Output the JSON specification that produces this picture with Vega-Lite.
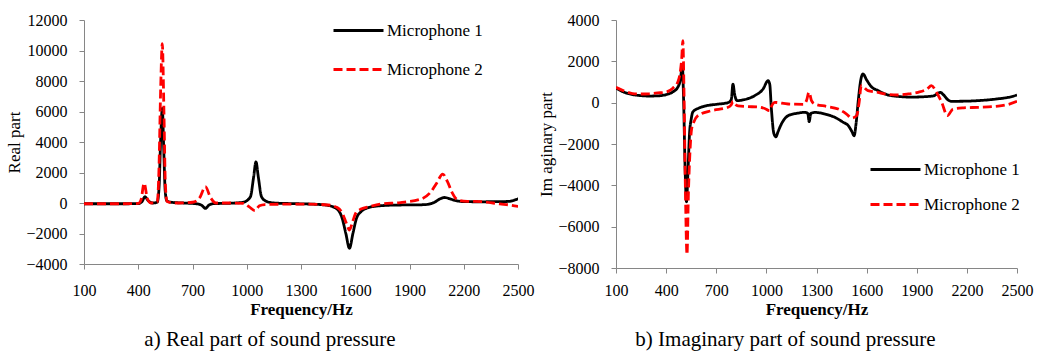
{
  "$schema": "https://vega.github.io/schema/vega-lite/v6.json",
  "padding": {"left": 5, "top": 4, "right": 5, "bottom": 3},
  "background": "white",
  "spacing": 3,
  "datasets": {
    "real": [
      {"f":100,"mic":"Microphone 1","v":-50},{"f":300,"mic":"Microphone 1","v":-50},{"f":400,"mic":"Microphone 1","v":-40},{"f":420,"mic":"Microphone 1","v":80},{"f":437,"mic":"Microphone 1","v":410},{"f":455,"mic":"Microphone 1","v":150},{"f":480,"mic":"Microphone 1","v":0},{"f":505,"mic":"Microphone 1","v":60},{"f":515,"mic":"Microphone 1","v":1000},{"f":524,"mic":"Microphone 1","v":4200},{"f":533,"mic":"Microphone 1","v":6200},{"f":541,"mic":"Microphone 1","v":3500},{"f":549,"mic":"Microphone 1","v":800},{"f":558,"mic":"Microphone 1","v":150},{"f":580,"mic":"Microphone 1","v":50},{"f":650,"mic":"Microphone 1","v":0},{"f":720,"mic":"Microphone 1","v":-50},{"f":750,"mic":"Microphone 1","v":-140},{"f":771,"mic":"Microphone 1","v":-350},{"f":792,"mic":"Microphone 1","v":-130},{"f":820,"mic":"Microphone 1","v":-40},{"f":900,"mic":"Microphone 1","v":-20},{"f":980,"mic":"Microphone 1","v":50},{"f":1020,"mic":"Microphone 1","v":400},{"f":1038,"mic":"Microphone 1","v":1700},{"f":1051,"mic":"Microphone 1","v":2700},{"f":1064,"mic":"Microphone 1","v":1700},{"f":1082,"mic":"Microphone 1","v":400},{"f":1110,"mic":"Microphone 1","v":100},{"f":1150,"mic":"Microphone 1","v":0},{"f":1250,"mic":"Microphone 1","v":-40},{"f":1350,"mic":"Microphone 1","v":-70},{"f":1433,"mic":"Microphone 1","v":-130},{"f":1490,"mic":"Microphone 1","v":-320},{"f":1525,"mic":"Microphone 1","v":-900},{"f":1548,"mic":"Microphone 1","v":-2000},{"f":1568,"mic":"Microphone 1","v":-2970},{"f":1587,"mic":"Microphone 1","v":-2000},{"f":1607,"mic":"Microphone 1","v":-1000},{"f":1632,"mic":"Microphone 1","v":-570},{"f":1680,"mic":"Microphone 1","v":-280},{"f":1750,"mic":"Microphone 1","v":-170},{"f":1850,"mic":"Microphone 1","v":-130},{"f":1950,"mic":"Microphone 1","v":-120},{"f":2000,"mic":"Microphone 1","v":-90},{"f":2040,"mic":"Microphone 1","v":60},{"f":2070,"mic":"Microphone 1","v":280},{"f":2093,"mic":"Microphone 1","v":360},{"f":2120,"mic":"Microphone 1","v":290},{"f":2150,"mic":"Microphone 1","v":170},{"f":2204,"mic":"Microphone 1","v":90},{"f":2300,"mic":"Microphone 1","v":80},{"f":2443,"mic":"Microphone 1","v":100},{"f":2480,"mic":"Microphone 1","v":190},{"f":2505,"mic":"Microphone 1","v":300},
      {"f":100,"mic":"Microphone 2","v":-50},{"f":300,"mic":"Microphone 2","v":-50},{"f":400,"mic":"Microphone 2","v":-30},{"f":415,"mic":"Microphone 2","v":200},{"f":433,"mic":"Microphone 2","v":1300},{"f":450,"mic":"Microphone 2","v":300},{"f":470,"mic":"Microphone 2","v":0},{"f":505,"mic":"Microphone 2","v":30},{"f":514,"mic":"Microphone 2","v":2000},{"f":524,"mic":"Microphone 2","v":7500},{"f":533,"mic":"Microphone 2","v":10450},{"f":542,"mic":"Microphone 2","v":6000},{"f":550,"mic":"Microphone 2","v":1200},{"f":559,"mic":"Microphone 2","v":100},{"f":600,"mic":"Microphone 2","v":0},{"f":700,"mic":"Microphone 2","v":50},{"f":740,"mic":"Microphone 2","v":350},{"f":771,"mic":"Microphone 2","v":1070},{"f":800,"mic":"Microphone 2","v":350},{"f":830,"mic":"Microphone 2","v":0},{"f":900,"mic":"Microphone 2","v":0},{"f":980,"mic":"Microphone 2","v":-20},{"f":1014,"mic":"Microphone 2","v":-250},{"f":1045,"mic":"Microphone 2","v":-500},{"f":1070,"mic":"Microphone 2","v":-180},{"f":1100,"mic":"Microphone 2","v":-100},{"f":1200,"mic":"Microphone 2","v":-80},{"f":1350,"mic":"Microphone 2","v":-80},{"f":1450,"mic":"Microphone 2","v":-130},{"f":1500,"mic":"Microphone 2","v":-300},{"f":1530,"mic":"Microphone 2","v":-700},{"f":1550,"mic":"Microphone 2","v":-1300},{"f":1568,"mic":"Microphone 2","v":-1770},{"f":1586,"mic":"Microphone 2","v":-1200},{"f":1605,"mic":"Microphone 2","v":-620},{"f":1632,"mic":"Microphone 2","v":-400},{"f":1680,"mic":"Microphone 2","v":-230},{"f":1743,"mic":"Microphone 2","v":-60},{"f":1850,"mic":"Microphone 2","v":30},{"f":1964,"mic":"Microphone 2","v":260},{"f":2019,"mic":"Microphone 2","v":740},{"f":2050,"mic":"Microphone 2","v":1300},{"f":2084,"mic":"Microphone 2","v":1900},{"f":2110,"mic":"Microphone 2","v":1400},{"f":2135,"mic":"Microphone 2","v":700},{"f":2167,"mic":"Microphone 2","v":200},{"f":2220,"mic":"Microphone 2","v":110},{"f":2296,"mic":"Microphone 2","v":90},{"f":2400,"mic":"Microphone 2","v":-60},{"f":2460,"mic":"Microphone 2","v":-140},{"f":2506,"mic":"Microphone 2","v":-240}
    ],
    "imag": [
      {"f":100,"mic":"Microphone 1","v":710},{"f":150,"mic":"Microphone 1","v":500},{"f":200,"mic":"Microphone 1","v":390},{"f":250,"mic":"Microphone 1","v":340},{"f":300,"mic":"Microphone 1","v":320},{"f":350,"mic":"Microphone 1","v":330},{"f":400,"mic":"Microphone 1","v":390},{"f":440,"mic":"Microphone 1","v":520},{"f":470,"mic":"Microphone 1","v":750},{"f":485,"mic":"Microphone 1","v":1100},{"f":497,"mic":"Microphone 1","v":1790},{"f":505,"mic":"Microphone 1","v":0},{"f":513,"mic":"Microphone 1","v":-3000},{"f":522,"mic":"Microphone 1","v":-4800},{"f":530,"mic":"Microphone 1","v":-3500},{"f":540,"mic":"Microphone 1","v":-1500},{"f":550,"mic":"Microphone 1","v":-800},{"f":560,"mic":"Microphone 1","v":-450},{"f":600,"mic":"Microphone 1","v":-250},{"f":640,"mic":"Microphone 1","v":-150},{"f":700,"mic":"Microphone 1","v":-80},{"f":770,"mic":"Microphone 1","v":0},{"f":790,"mic":"Microphone 1","v":150},{"f":800,"mic":"Microphone 1","v":900},{"f":810,"mic":"Microphone 1","v":400},{"f":825,"mic":"Microphone 1","v":100},{"f":870,"mic":"Microphone 1","v":150},{"f":930,"mic":"Microphone 1","v":340},{"f":980,"mic":"Microphone 1","v":660},{"f":1010,"mic":"Microphone 1","v":1060},{"f":1020,"mic":"Microphone 1","v":900},{"f":1030,"mic":"Microphone 1","v":-300},{"f":1045,"mic":"Microphone 1","v":-1500},{"f":1057,"mic":"Microphone 1","v":-1650},{"f":1070,"mic":"Microphone 1","v":-1400},{"f":1090,"mic":"Microphone 1","v":-1030},{"f":1130,"mic":"Microphone 1","v":-630},{"f":1180,"mic":"Microphone 1","v":-520},{"f":1230,"mic":"Microphone 1","v":-470},{"f":1248,"mic":"Microphone 1","v":-520},{"f":1256,"mic":"Microphone 1","v":-920},{"f":1266,"mic":"Microphone 1","v":-520},{"f":1290,"mic":"Microphone 1","v":-470},{"f":1350,"mic":"Microphone 1","v":-550},{"f":1410,"mic":"Microphone 1","v":-710},{"f":1460,"mic":"Microphone 1","v":-950},{"f":1490,"mic":"Microphone 1","v":-1110},{"f":1512,"mic":"Microphone 1","v":-1400},{"f":1525,"mic":"Microphone 1","v":-1600},{"f":1537,"mic":"Microphone 1","v":-1000},{"f":1550,"mic":"Microphone 1","v":100},{"f":1565,"mic":"Microphone 1","v":1100},{"f":1578,"mic":"Microphone 1","v":1390},{"f":1600,"mic":"Microphone 1","v":1100},{"f":1630,"mic":"Microphone 1","v":760},{"f":1670,"mic":"Microphone 1","v":580},{"f":1710,"mic":"Microphone 1","v":420},{"f":1790,"mic":"Microphone 1","v":300},{"f":1870,"mic":"Microphone 1","v":270},{"f":1950,"mic":"Microphone 1","v":290},{"f":2000,"mic":"Microphone 1","v":330},{"f":2025,"mic":"Microphone 1","v":440},{"f":2040,"mic":"Microphone 1","v":500},{"f":2060,"mic":"Microphone 1","v":380},{"f":2085,"mic":"Microphone 1","v":150},{"f":2107,"mic":"Microphone 1","v":65},{"f":2180,"mic":"Microphone 1","v":70},{"f":2270,"mic":"Microphone 1","v":100},{"f":2380,"mic":"Microphone 1","v":180},{"f":2450,"mic":"Microphone 1","v":260},{"f":2500,"mic":"Microphone 1","v":370},
      {"f":100,"mic":"Microphone 2","v":740},{"f":150,"mic":"Microphone 2","v":560},{"f":200,"mic":"Microphone 2","v":440},{"f":250,"mic":"Microphone 2","v":420},{"f":300,"mic":"Microphone 2","v":430},{"f":350,"mic":"Microphone 2","v":470},{"f":400,"mic":"Microphone 2","v":515},{"f":440,"mic":"Microphone 2","v":700},{"f":470,"mic":"Microphone 2","v":1000},{"f":485,"mic":"Microphone 2","v":1500},{"f":493,"mic":"Microphone 2","v":2100},{"f":500,"mic":"Microphone 2","v":3000},{"f":507,"mic":"Microphone 2","v":500},{"f":515,"mic":"Microphone 2","v":-4000},{"f":525,"mic":"Microphone 2","v":-7350},{"f":533,"mic":"Microphone 2","v":-4500},{"f":542,"mic":"Microphone 2","v":-2500},{"f":552,"mic":"Microphone 2","v":-1300},{"f":565,"mic":"Microphone 2","v":-950},{"f":590,"mic":"Microphone 2","v":-630},{"f":670,"mic":"Microphone 2","v":-390},{"f":770,"mic":"Microphone 2","v":-225},{"f":790,"mic":"Microphone 2","v":-100},{"f":800,"mic":"Microphone 2","v":60},{"f":812,"mic":"Microphone 2","v":-60},{"f":830,"mic":"Microphone 2","v":-160},{"f":890,"mic":"Microphone 2","v":-190},{"f":950,"mic":"Microphone 2","v":-210},{"f":990,"mic":"Microphone 2","v":-280},{"f":1020,"mic":"Microphone 2","v":-390},{"f":1035,"mic":"Microphone 2","v":-100},{"f":1050,"mic":"Microphone 2","v":15},{"f":1130,"mic":"Microphone 2","v":-65},{"f":1220,"mic":"Microphone 2","v":-80},{"f":1240,"mic":"Microphone 2","v":100},{"f":1255,"mic":"Microphone 2","v":500},{"f":1270,"mic":"Microphone 2","v":100},{"f":1290,"mic":"Microphone 2","v":-65},{"f":1360,"mic":"Microphone 2","v":-180},{"f":1430,"mic":"Microphone 2","v":-310},{"f":1480,"mic":"Microphone 2","v":-550},{"f":1510,"mic":"Microphone 2","v":-740},{"f":1540,"mic":"Microphone 2","v":-630},{"f":1555,"mic":"Microphone 2","v":0},{"f":1568,"mic":"Microphone 2","v":820},{"f":1608,"mic":"Microphone 2","v":580},{"f":1668,"mic":"Microphone 2","v":500},{"f":1708,"mic":"Microphone 2","v":420},{"f":1788,"mic":"Microphone 2","v":370},{"f":1850,"mic":"Microphone 2","v":420},{"f":1908,"mic":"Microphone 2","v":500},{"f":1960,"mic":"Microphone 2","v":650},{"f":1988,"mic":"Microphone 2","v":820},{"f":2018,"mic":"Microphone 2","v":500},{"f":2050,"mic":"Microphone 2","v":0},{"f":2083,"mic":"Microphone 2","v":-630},{"f":2117,"mic":"Microphone 2","v":-310},{"f":2180,"mic":"Microphone 2","v":-250},{"f":2267,"mic":"Microphone 2","v":-225},{"f":2387,"mic":"Microphone 2","v":-170},{"f":2450,"mic":"Microphone 2","v":-80},{"f":2500,"mic":"Microphone 2","v":65}
    ]
  },
  "hconcat": [
    {
      "width": 434,
      "height": 244,
      "data": {"name": "real"},
      "mark": {"type": "line", "strokeWidth": 2.8, "interpolate": "monotone", "clip": true},
      "encoding": {
        "x": {"field": "f", "type": "quantitative", "scale": {"domain": [100, 2500], "nice": false}, "axis": {"values": [100, 400, 700, 1000, 1300, 1600, 1900, 2200, 2500], "title": "Frequency/Hz", "format": "d", "labelPadding": 13}},
        "y": {"field": "v", "type": "quantitative", "scale": {"domain": [-4000, 12000], "nice": false}, "axis": {"values": [-4000, -2000, 0, 2000, 4000, 6000, 8000, 10000, 12000], "title": "Real part", "format": "d"}},
        "color": {"field": "mic", "type": "nominal", "scale": {"domain": ["Microphone 1", "Microphone 2"], "range": ["#000000", "#ff0000"]}, "legend": {"title": null, "orient": "none", "legendX": 248, "legendY": -16, "rowPadding": 4}},
        "strokeDash": {"field": "mic", "type": "nominal", "scale": {"domain": ["Microphone 1", "Microphone 2"], "range": [[1, 0], [9, 4]]}, "legend": {"title": null, "orient": "none", "legendX": 248, "legendY": -16, "rowPadding": 4}}
      },
      "title": {"text": "a) Real part of sound pressure", "orient": "bottom", "frame": "bounds", "anchor": "middle"}
    },
    {
      "width": 401,
      "height": 248,
      "data": {"name": "imag"},
      "mark": {"type": "line", "strokeWidth": 2.8, "interpolate": "monotone", "clip": true},
      "encoding": {
        "x": {"field": "f", "type": "quantitative", "scale": {"domain": [100, 2500], "nice": false}, "axis": {"values": [100, 400, 700, 1000, 1300, 1600, 1900, 2200, 2500], "title": "Frequency/Hz", "format": "d", "labelPadding": 9}},
        "y": {"field": "v", "type": "quantitative", "scale": {"domain": [-8000, 4000], "nice": false}, "axis": {"values": [-8000, -6000, -4000, -2000, 0, 2000, 4000], "title": "Im aginary part", "format": "d"}},
        "color": {"field": "mic", "type": "nominal", "scale": {"domain": ["Microphone 1", "Microphone 2"], "range": ["#000000", "#ff0000"]}, "legend": {"title": null, "orient": "none", "legendX": 253, "legendY": 123, "rowPadding": -5}},
        "strokeDash": {"field": "mic", "type": "nominal", "scale": {"domain": ["Microphone 1", "Microphone 2"], "range": [[1, 0], [9, 4]]}, "legend": {"title": null, "orient": "none", "legendX": 253, "legendY": 123, "rowPadding": -5}}
      },
      "title": {"text": "b) Imaginary part of sound pressure", "orient": "bottom", "frame": "bounds", "anchor": "middle"}
    }
  ],
  "resolve": {"scale": {"x": "independent", "y": "independent", "color": "independent", "strokeDash": "independent"}, "legend": {"color": "independent", "strokeDash": "independent"}},
  "config": {
    "font": "Times New Roman, Liberation Serif, serif",
    "view": {"stroke": null},
    "axis": {"grid": false, "labelFont": "Times New Roman, Liberation Serif, serif", "labelFontSize": 16, "labelColor": "#000000", "titleFont": "Times New Roman, Liberation Serif, serif", "titleFontSize": 17, "titleColor": "#000000", "titleFontWeight": "normal", "domainColor": "#868686", "tickColor": "#868686"},
    "axisY": {"labelPadding": 12, "titlePadding": 2},
    "axisX": {"titleFontWeight": "bold", "labelFlush": false, "titlePadding": 3},
    "legend": {"labelFont": "Times New Roman, Liberation Serif, serif", "labelFontSize": 17, "labelColor": "#000000", "symbolType": "stroke", "symbolSize": 2500, "symbolStrokeWidth": 3, "labelOffset": 2, "padding": 0},
    "title": {"font": "Times New Roman, Liberation Serif, serif", "fontSize": 21, "fontWeight": "normal", "color": "#000000", "offset": 12}
  }
}
